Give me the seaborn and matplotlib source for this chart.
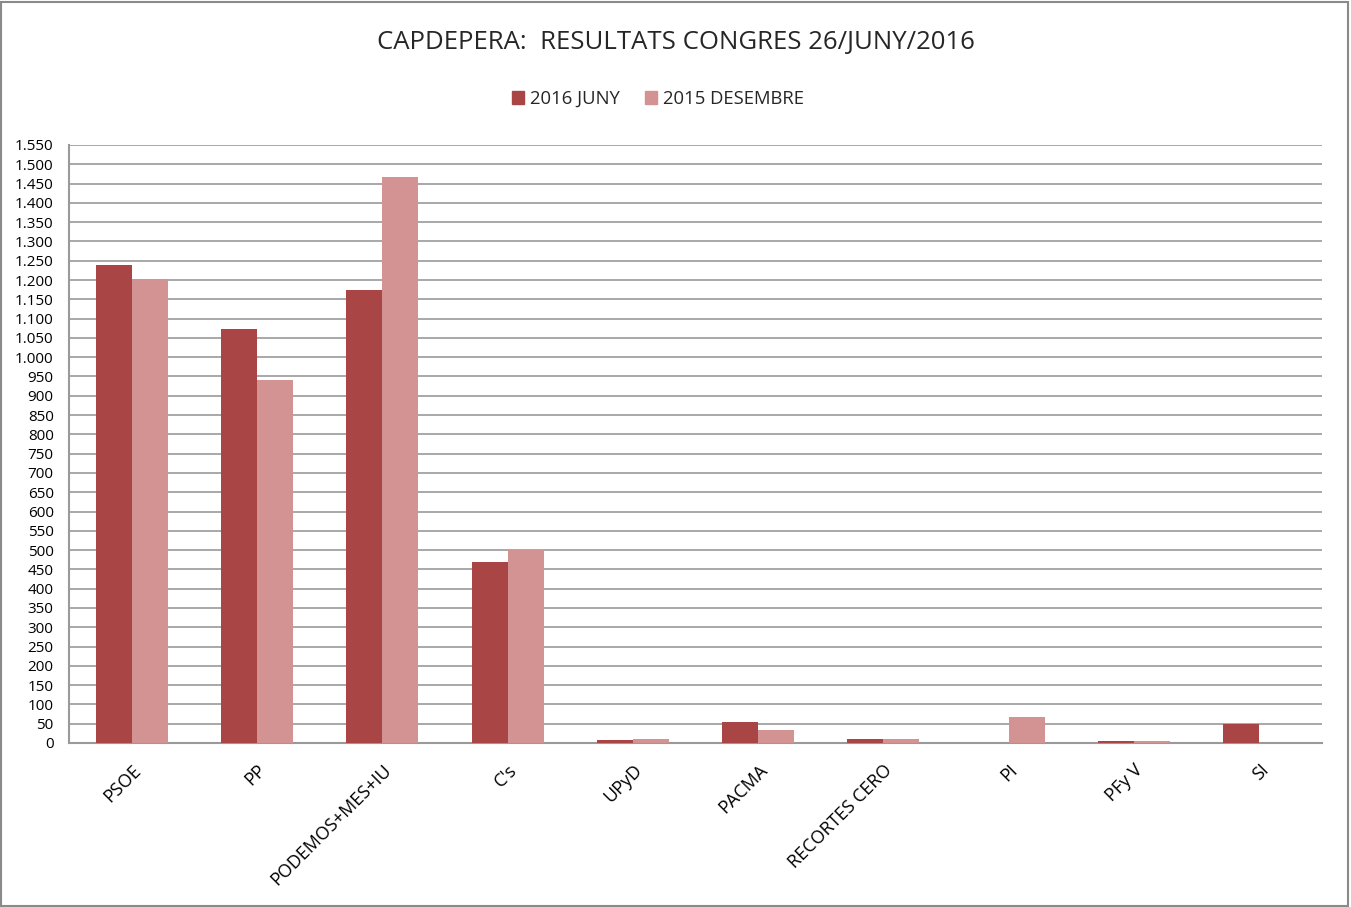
import pandas as pd
import matplotlib
matplotlib.use('Agg')
import matplotlib.pyplot as plt
import seaborn as sns
from matplotlib.ticker import FuncFormatter, MultipleLocator
from matplotlib.patches import Rectangle

# Data
parties = ['PSOE', 'PP', 'PODEMOS+MES+IU', "C's", 'UPyD', 'PACMA',
           'RECORTES CERO', 'PI', 'PFy V', 'SI']
juny_2016 = [1239, 1073, 1174, 469, 7, 54, 10, 0, 5, 50]
desembre_2015 = [1203, 941, 1467, 500, 10, 34, 10, 67, 4, 0]
series_names = ['2016 JUNY', '2015 DESEMBRE']
colors = ['#A94645', '#D39392']

df = pd.DataFrame({'party': parties * 2,
                   'votes': juny_2016 + desembre_2015,
                   'series': [series_names[0]] * len(parties) + [series_names[1]] * len(parties)})

sns.set_style('white')
plt.rcParams['font.family'] = ['Open Sans', 'DejaVu Sans']

fig = plt.figure(figsize=(13.51, 9.07), dpi=100)
ax = fig.add_axes([69 / 1351, 1 - 743 / 907, (1322 - 69) / 1351, (743 - 145) / 907])

sns.barplot(data=df, x='party', y='votes', hue='series', palette=colors,
            width=0.575, saturation=1, ax=ax, legend=False)
for p in ax.patches:
    p.set_zorder(3)
    p.set_edgecolor('none')

ax.set_ylim(0, 1550)
ax.set_xlim(-0.5, len(parties) - 0.5)
ax.yaxis.set_major_locator(MultipleLocator(50))
ax.yaxis.set_major_formatter(FuncFormatter(lambda v, p: f'{int(v):,}'.replace(',', '.')))
ax.grid(axis='y', color='#9a9a9a', linewidth=1.2)
ax.set_axisbelow(True)
for s in ['top', 'right']:
    ax.spines[s].set_visible(False)
for s in ['left', 'bottom']:
    ax.spines[s].set_color('#9a9a9a')
    ax.spines[s].set_linewidth(1.5)
    ax.spines[s].set_zorder(2)
ax.tick_params(axis='both', length=0, labelsize=11, colors='black')
ax.tick_params(axis='y', pad=11)
ax.set_xticks(range(len(parties)))
ax.set_xticklabels(parties, rotation=45, ha='right', rotation_mode='anchor', fontsize=13)
ax.tick_params(axis='x', pad=13)
ax.set_xlabel('')
ax.set_ylabel('')

fig.text(0.5, 1 - 42 / 907, 'CAPDEPERA:  RESULTATS CONGRES 26/JUNY/2016',
         ha='center', va='center', fontsize=18.5)

handles = [Rectangle((0, 0), 1, 1, color=c) for c in colors]
fig.legend(handles, series_names, loc='center', bbox_to_anchor=(658 / 1351, 1 - 99 / 907),
           ncol=2, frameon=False, fontsize=13.3, handlelength=0.65, handleheight=0.65,
           handletextpad=0.3, columnspacing=1.4)

fig.add_artist(Rectangle((0.001, 0.001), 0.997, 0.997, transform=fig.transFigure,
                         fill=False, edgecolor='#8a8a8a', linewidth=1.5))

fig.savefig('out.png', dpi=100)
